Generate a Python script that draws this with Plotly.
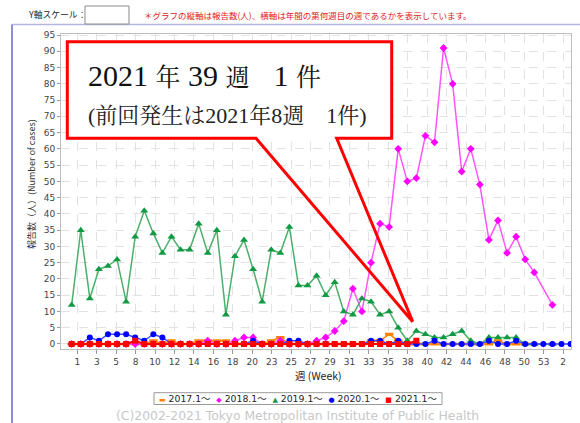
import plotly.graph_objects as go

# ---------------- data ----------------
tick_labels = ["1", "3", "5", "8", "10", "12", "14", "16", "18", "20", "23", "25", "27",
               "29", "31", "33", "35", "38", "40", "42", "44", "46", "48", "50", "53", "2"]

# position 1..54 (position 53 = no week 53 in that year -> None, 54 = week 1 of next year)
s2017 = [0, 0, 0, 0, 0, 0, 0, 0, 0, 1, 0, 1, 0, 0, 1, 1, 1, 1, 0, 0,
         0, 0, 1, 2, 0, 0, 0, 0, 0, 0, 0, 0, 0, 1, 1, 3, 1, 0, 0, 0,
         0, 0, 0, 0, 0, 0, 0, 1, 0, 0, 0, 0, None, 0]
s2018 = [0, 0, 0, 0, 0, 0, 0, 0, 0, 0, 0, 0, 0, 0, 0, 1, 0, 0, 1, 2,
         2, 0, 0, 1, 0, 0, 0, 1, 2, 4, 7, 17, 10, 25, 37, 36, 60, 50, 51, 64,
         62, 91, 80, 53, 60, 49, 32, 38, 28, 33, 26, 22, None, 12]
s2019 = [12, 35, 14, 23, 24, 26, 13, 33, 41, 34, 28, 33, 29, 29, 37, 28, 35, 9, 27, 32,
         23, 13, 29, 28, 36, 18, 18, 21, 15, 19, 10, 9, 14, 13, 9, 10, 5, 1, 4, 3,
         2, 2, 3, 4, 1, 0, 2, 2, 2, 2, 0, 0, None, 0]
s2020 = [0, 0, 2, 1, 3, 3, 3, 2, 1, 3, 2, 0, 0, 0, 0, 0, 0, 0, 0, 0,
         1, 0, 0, 0, 1, 1, 0, 0, 0, 0, 0, 0, 0, 1, 1, 0, 1, 0, 0, 0,
         1, 0, 0, 0, 0, 0, 1, 0, 0, 1, 0, 0, 0, 0, 0, 0]
s2021 = [0, 0, 0, 0, 0, 0, 0, 1, 0, 0, 0, 0, 0, 0, 0, 0, 0, 0, 0, 0,
         0, 0, 0, 0, 0, 0, 0, 0, 0, 0, 0, 0, 0, 0, 0, 0, 0, 0, 1]

series_names = ["2017.1～", "2018.1～", "2019.1～", "2020.1～", "2021.1～"]
series_values = [s2017, s2018, s2019, s2020, s2021]

# ---------------- layout geometry (pixels) ----------------
W, H = 580, 423
L, R, T, B = 61, 571, 34, 349


def px(x):
    return (x - L) / (R - L)


def py(y):
    return (B - y) / (B - T)


line_colors = ["#ff8000", "#ff55ff", "#4cb06a", "#3a4cff", "#ff0000"]
markers = [
    dict(symbol="line-ew", size=6, color="#ff8000", line=dict(width=3, color="#ff8000")),
    dict(symbol="diamond", size=6, color="#ff00ff", line=dict(width=0)),
    dict(symbol="triangle-up", size=7, color="#119944", line=dict(width=0)),
    dict(symbol="circle", size=6, color="#0000ff", line=dict(width=0)),
    dict(symbol="square", size=6, color="#ff0000", line=dict(width=0)),
]
line_widths = [1.5, 1.5, 1.5, 1.5, 2]

fig = go.Figure()
for name, vals, lc, mk, lw in zip(series_names, series_values, line_colors, markers, line_widths):
    fig.add_trace(go.Scatter(
        x=list(range(1, len(vals) + 1)), y=vals, name=name,
        mode="lines+markers", connectgaps=True,
        line=dict(color=lc, width=lw), marker=mk, showlegend=False,
    ))

tick_step = 15 / 7
tick_vals = [1.62 + k * tick_step for k in range(len(tick_labels))]

tick_font = dict(family="DejaVu Sans, sans-serif", size=9, color="#444")
fig.update_xaxes(
    range=[-0.18, 56.05], tickmode="array", tickvals=tick_vals, ticktext=tick_labels,
    showgrid=True, gridcolor="#e2e2e2", griddash="dash", gridwidth=1,
    showline=True, linecolor="#bdbdbd", linewidth=1, mirror=True,
    ticks="outside", ticklen=4, tickcolor="#999", tickfont=tick_font, zeroline=False,
)
fig.update_yaxes(
    range=[-1.54, 95.31], tickmode="linear", tick0=0, dtick=5,
    showgrid=True, gridcolor="#e2e2e2", griddash="dash", gridwidth=1,
    showline=True, linecolor="#bdbdbd", linewidth=1, mirror=True,
    ticks="outside", ticklen=3, tickcolor="#999", tickfont=tick_font, zeroline=False,
)

shapes = []
# outer panel frame (lavender)
shapes.append(dict(type="line", xref="paper", yref="paper", x0=px(12), x1=px(580), y0=py(24.5), y1=py(24.5),
                   line=dict(color="#b4b8e0", width=1.5), layer="above"))
shapes.append(dict(type="line", xref="paper", yref="paper", x0=px(12), x1=px(12), y0=py(24.5), y1=py(423),
                   line=dict(color="#8c8cd8", width=2), layer="above"))
# input box
shapes.append(dict(type="rect", xref="paper", yref="paper", x0=px(85), x1=px(129), y0=py(6), y1=py(24),
                   line=dict(color="#8a8a8a", width=1), fillcolor="white", layer="above"))
# callout box: white fill
bx0, bx1, by0, by1 = 67.3, 391.7, 41.7, 138.3
shapes.append(dict(type="rect", xref="paper", yref="paper", x0=px(bx0), x1=px(bx1), y0=py(by0), y1=py(by1),
                   line=dict(width=0), fillcolor="white", layer="above"))
# callout outline with pointer
pts = [(256, by1), (412.7, 321.7), (336.7, by1), (bx1, by1), (bx1, by0), (bx0, by0), (bx0, by1)]
path = "M " + " L ".join(f"{px(a):.5f},{py(b):.5f}" for a, b in pts) + " Z"
shapes.append(dict(type="path", xref="paper", yref="paper", path=path,
                   line=dict(color="#ff0000", width=3), fillcolor="rgba(0,0,0,0)", layer="above"))
# legend box
shapes.append(dict(type="rect", xref="paper", yref="paper", x0=px(154), x1=px(442), y0=py(392.7), y1=py(404.5),
                   line=dict(color="#9a9a9a", width=1), fillcolor="white", layer="above"))

ann = []
serif = "Liberation Serif, Noto Serif CJK JP, Noto Sans CJK JP, serif"
jp = "Noto Sans CJK JP, sans-serif"


def note(xp, yp, text, font, xanchor="left", **kw):
    ann.append(dict(x=px(xp), y=py(yp), xref="paper", yref="paper", text=text,
                    xanchor=xanchor, yanchor="middle", font=font, showarrow=False, **kw))


def cjk(s, size):
    return f"<span style='font-size:{size}px'>{s}</span>"


line1 = "2021 " + cjk("年", 25) + " 39 " + cjk("週\u3000", 24) + "1 " + cjk("件", 25)
note(86, 75, line1, dict(family=serif, size=30, color="#111"))
note(86, 116, "(前回発生は2021年8週\u30001件)", dict(family=serif, size=22, color="#222"))
note(26, 15, "Y軸スケール：", dict(family=jp, size=8.8, color="#222"))
note(142, 15, "＊グラフの縦軸は報告数(人)、横軸は年間の第何週目の週であるかを表示しています。",
     dict(family=jp, size=8.5, color="#e02020"))
note(31, 184, "報告数（人）(Number of cases)", dict(family=jp, size=9, color="#333"),
     xanchor="center", textangle=-90)
note(318, 375, "週 (Week)", dict(family=jp, size=10.5, color="#222"), xanchor="center")

legend_symbols = ["▬", "◆", "▲", "●", "■"]
legend_colors = ["#ff8000", "#ff00ff", "#119944", "#0000ff", "#ff0000"]
legend_text = "\u00a0\u00a0".join(
    f"<span style='color:{c};font-size:7px'>{s}</span>\u00a0{n}"
    for s, c, n in zip(legend_symbols, legend_colors, series_names)
)
note(298, 398.6, legend_text,
     dict(family="DejaVu Sans, Noto Sans CJK JP, sans-serif", size=9.3, color="#222"), xanchor="center")
note(297, 415, "(C)2002-2021 Tokyo Metropolitan Institute of Public Health",
     dict(family="DejaVu Sans, sans-serif", size=12.4, color="#c8c8c8"), xanchor="center")

fig.update_layout(
    width=W, height=H, margin=dict(l=L, r=W - R, t=T, b=H - B, pad=0),
    paper_bgcolor="white", plot_bgcolor="white", showlegend=False,
    shapes=shapes, annotations=ann,
)

fig.write_html("out.html", config={"displayModeBar": False},
               post_script="document.body.style.margin='0';")
